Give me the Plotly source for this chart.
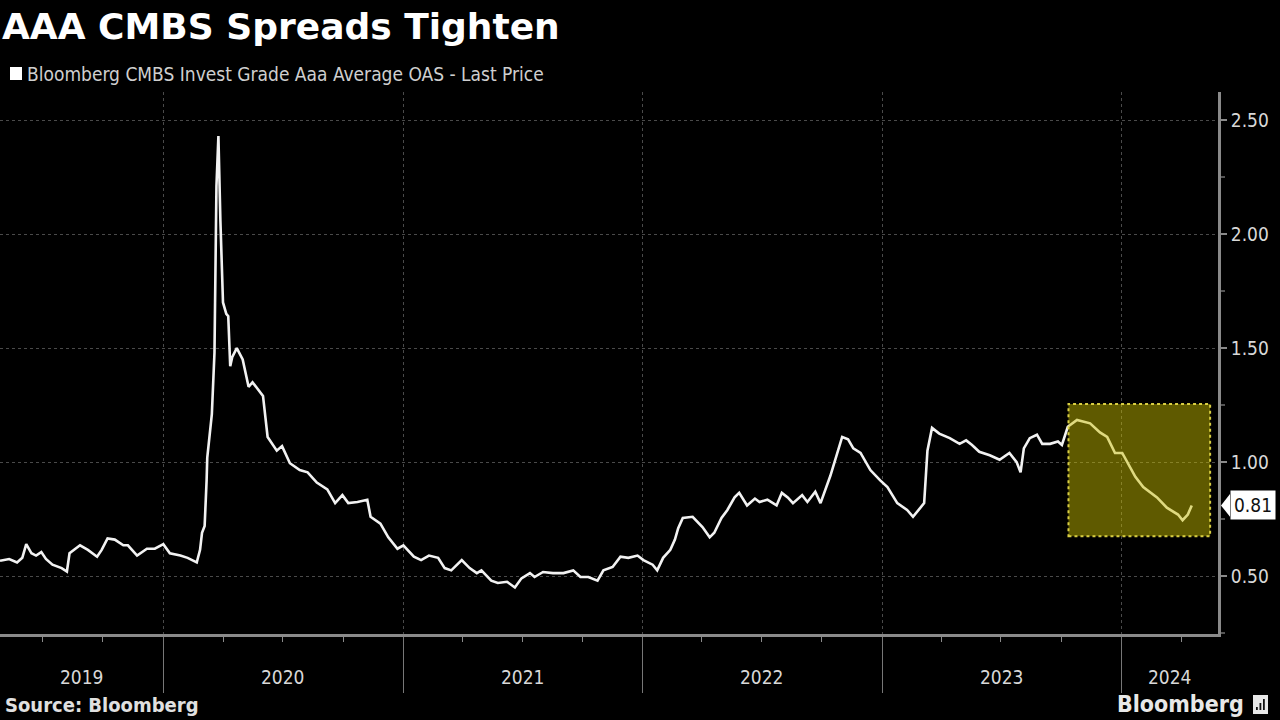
import plotly.graph_objects as go
import pandas as pd

# ---------------- data ----------------
dates = [
    "2019-04-27", "2019-05-11", "2019-05-23", "2019-05-31", "2019-06-06", "2019-06-14", "2019-06-21",
    "2019-06-29", "2019-07-06", "2019-07-16", "2019-07-30", "2019-08-07", "2019-08-11", "2019-08-27",
    "2019-09-08", "2019-09-22", "2019-09-29", "2019-10-08", "2019-10-19", "2019-11-01", "2019-11-08",
    "2019-11-22", "2019-12-07", "2019-12-19", "2020-01-01", "2020-01-11", "2020-01-27", "2020-02-07",
    "2020-02-21", "2020-02-26", "2020-02-29", "2020-03-04", "2020-03-07", "2020-03-08", "2020-03-15",
    "2020-03-19", "2020-03-22", "2020-03-25", "2020-03-28", "2020-04-01", "2020-04-06", "2020-04-09",
    "2020-04-12", "2020-04-15", "2020-04-22", "2020-05-01", "2020-05-10", "2020-05-16", "2020-06-01",
    "2020-06-08", "2020-06-22", "2020-06-30", "2020-07-12", "2020-07-27", "2020-08-08", "2020-08-22",
    "2020-09-07", "2020-09-19", "2020-09-30", "2020-10-09", "2020-10-23", "2020-11-07", "2020-11-12",
    "2020-11-27", "2020-12-09", "2020-12-23", "2021-01-01", "2021-01-17", "2021-01-28", "2021-02-09",
    "2021-02-23", "2021-03-05", "2021-03-15", "2021-03-31", "2021-04-12", "2021-04-23", "2021-04-30",
    "2021-05-15", "2021-05-25", "2021-06-08", "2021-06-20", "2021-06-30", "2021-07-13", "2021-07-20",
    "2021-08-02", "2021-08-17", "2021-09-02", "2021-09-17", "2021-09-28", "2021-10-10", "2021-10-24",
    "2021-11-02", "2021-11-16", "2021-11-28", "2021-12-10", "2021-12-24", "2022-01-02", "2022-01-16",
    "2022-01-23", "2022-02-01", "2022-02-12", "2022-02-19", "2022-02-24", "2022-03-03", "2022-03-18",
    "2022-04-02", "2022-04-13", "2022-04-20", "2022-05-01", "2022-05-10", "2022-05-21", "2022-05-28",
    "2022-06-09", "2022-06-21", "2022-06-28", "2022-07-10", "2022-07-24", "2022-08-01", "2022-08-10",
    "2022-08-18", "2022-09-01", "2022-09-09", "2022-09-21", "2022-09-29", "2022-10-14", "2022-10-24",
    "2022-11-01", "2022-11-10", "2022-11-18", "2022-11-29", "2022-12-14", "2022-12-29", "2023-01-09",
    "2023-01-24", "2023-02-08", "2023-02-17", "2023-02-28", "2023-03-06", "2023-03-11", "2023-03-18",
    "2023-03-29", "2023-04-14", "2023-04-29", "2023-05-09", "2023-05-18", "2023-05-29", "2023-06-14",
    "2023-06-29", "2023-07-14", "2023-07-25", "2023-07-31", "2023-08-05", "2023-08-14", "2023-08-25",
    "2023-09-02", "2023-09-14", "2023-09-26", "2023-10-02", "2023-10-11", "2023-10-25", "2023-11-14",
    "2023-11-29", "2023-12-10", "2023-12-22", "2024-01-02", "2024-01-14", "2024-01-22", "2024-02-03",
    "2024-02-24", "2024-03-10", "2024-03-27", "2024-04-03", "2024-04-11", "2024-04-17",
]
oas = [
    0.567, 0.575, 0.56, 0.58, 0.64, 0.60, 0.59,
    0.605, 0.575, 0.55, 0.535, 0.52, 0.60, 0.635,
    0.615, 0.585, 0.615, 0.665, 0.66, 0.635, 0.635,
    0.59, 0.62, 0.62, 0.64, 0.60, 0.59, 0.58,
    0.56, 0.615, 0.69, 0.72, 0.92, 1.02, 1.21,
    1.48, 2.21, 2.43, 2.06, 1.70, 1.65, 1.64,
    1.42, 1.46, 1.50, 1.45, 1.33, 1.35, 1.29,
    1.11, 1.05, 1.07, 0.995, 0.965, 0.955, 0.91,
    0.88, 0.82, 0.855, 0.82, 0.825, 0.835, 0.76,
    0.73, 0.67, 0.62, 0.635, 0.585, 0.57, 0.59,
    0.58, 0.535, 0.525, 0.57, 0.535, 0.513, 0.525,
    0.48, 0.47, 0.475, 0.45, 0.49, 0.513, 0.496,
    0.518, 0.513, 0.513, 0.525, 0.496, 0.496, 0.48,
    0.525, 0.54, 0.585, 0.58, 0.59, 0.57, 0.55,
    0.525, 0.58, 0.615, 0.66, 0.71, 0.755, 0.76,
    0.715, 0.67, 0.69, 0.755, 0.79, 0.845, 0.865,
    0.81, 0.84, 0.825, 0.835, 0.81, 0.865, 0.845,
    0.82, 0.855, 0.825, 0.87, 0.82, 0.94, 1.04,
    1.11, 1.10, 1.06, 1.04, 0.965, 0.92, 0.89,
    0.82, 0.79, 0.76, 0.80, 0.82, 1.05, 1.15,
    1.125, 1.105, 1.08, 1.095, 1.075, 1.045, 1.03,
    1.01, 1.04, 1.00, 0.955, 1.06, 1.105, 1.12,
    1.08, 1.08, 1.09, 1.075, 1.155, 1.185, 1.17,
    1.13, 1.11, 1.04, 1.04, 0.98, 0.935, 0.89,
    0.845, 0.80, 0.77, 0.745, 0.77, 0.81,
]
year_labels = ["2019", "2020", "2021", "2022", "2023", "2024"]
y_ticks = [0.5, 1.0, 1.5, 2.0, 2.5]

title_text = "AAA CMBS Spreads Tighten"
legend_text = "Bloomberg CMBS Invest Grade Aaa Average OAS - Last Price"
source_text = "Source: Bloomberg"

x_range = ["2019-04-27", "2024-05-27"]
y_range = [0.246, 2.623]
highlight_x = ["2023-10-12", "2024-05-15"]
highlight_y = [0.675, 1.255]

# ---------------- layout helpers ----------------
W, H = 1280, 720
PL, PR, PT, PB = 0, 1218, 92, 634


def px(p):
    return (p - PL) / (PR - PL)


def py(p):
    return (PB - p) / (PB - PT)


FONT = "DejaVu Sans Condensed, Liberation Sans Narrow, DejaVu Sans, sans-serif"
GRID = "#4a4a4a"
AXIS = "#8a8a8a"
LABEL = "#d8d8d8"

fig = go.Figure()
fig.add_trace(go.Scatter(
    x=pd.to_datetime(dates), y=oas, mode="lines",
    line=dict(color="#f2f2f2", width=2.6), hoverinfo="x+y", showlegend=False,
))

# year labels centred in visible portion of each year
xr0, xr1 = pd.Timestamp(x_range[0]), pd.Timestamp(x_range[1])
annotations = []
for lab in year_labels:
    s = max(pd.Timestamp(f"{lab}-01-01"), xr0)
    e = min(pd.Timestamp(f"{int(lab) + 1}-01-01"), xr1)
    mid = s + (e - s) / 2
    annotations.append(dict(x=mid, y=py(677), xref="x", yref="paper", text=lab, showarrow=False,
                            font=dict(family=FONT, size=19, color=LABEL), xanchor="center", yanchor="middle"))

last = oas[-1]
annotations += [
    dict(x=px(0), y=py(27), xref="paper", yref="paper", text=f"<b>{title_text}</b>", showarrow=False,
         xanchor="left", yanchor="middle", font=dict(family="DejaVu Sans, sans-serif", size=36, color="#ffffff")),
    dict(x=px(25), y=py(74), xref="paper", yref="paper", text=legend_text, showarrow=False,
         xanchor="left", yanchor="middle", font=dict(family=FONT, size=19, color="#cfcfcf")),
    dict(x=px(3), y=py(705), xref="paper", yref="paper", text=f"<b>{source_text}</b>", showarrow=False,
         xanchor="left", yanchor="middle", font=dict(family=FONT, size=20, color="#e0e0e0")),
    dict(x=px(1246), y=py(704), xref="paper", yref="paper", text="<b>Bloomberg</b>", showarrow=False,
         xanchor="right", yanchor="middle", font=dict(family=FONT, size=23, color="#e8e8e8")),
    dict(x=px(1253), y=last, xref="paper", yref="y", text=f"{last:.2f}", showarrow=False,
         xanchor="center", yanchor="middle", bgcolor="#ffffff", borderpad=3,
         font=dict(family=FONT, size=19, color="#111111")),
]

shapes = [
    # highlight box (overlays the line, tinting it yellow)
    dict(type="rect", xref="x", yref="y",
         x0=highlight_x[0], x1=highlight_x[1], y0=highlight_y[0], y1=highlight_y[1],
         fillcolor="rgba(202,191,0,0.47)",
         line=dict(color="rgba(225,215,70,0.95)", width=2, dash="dot"), layer="above"),
    # legend square
    dict(type="rect", xref="paper", yref="paper", x0=px(10), x1=px(22), y0=py(80), y1=py(67),
         fillcolor="#ffffff", line=dict(width=0)),
    # last-price arrow tip
    dict(type="path", xref="paper", yref="y",
         path=f"M {px(1221)} {last} L {px(1230)} {last + 0.05} L {px(1230)} {last - 0.05} Z",
         fillcolor="#ffffff", line=dict(width=0)),
    # Bloomberg logo icon
    dict(type="rect", xref="paper", yref="paper", x0=px(1253), x1=px(1268), y0=py(714), y1=py(695),
         fillcolor="#e8e8e8", line=dict(width=0)),
]
for bx, bt in [(1256, 707), (1259.5, 703), (1263, 699)]:
    shapes.append(dict(type="rect", xref="paper", yref="paper", x0=px(bx), x1=px(bx + 1.8),
                       y0=py(710), y1=py(bt), fillcolor="#111111", line=dict(width=0)))

fig.update_layout(
    width=W, height=H,
    margin=dict(l=PL, r=W - PR, t=PT, b=H - PB, pad=0),
    paper_bgcolor="#000000", plot_bgcolor="#000000",
    showlegend=False,
    annotations=annotations,
    shapes=shapes,
    xaxis=dict(
        type="date", range=x_range, showticklabels=False,
        tick0="2020-01-01", dtick="M12", ticks="outside", ticklen=56, tickwidth=1, tickcolor="#777777",
        showgrid=True, gridcolor=GRID, griddash="dot", gridwidth=1,
        showline=True, linecolor=AXIS, linewidth=3,
        minor=dict(tick0="2019-01-01", dtick="M3", ticks="outside", ticklen=5, tickcolor=AXIS, showgrid=False),
        zeroline=False, fixedrange=True,
    ),
    yaxis=dict(
        side="right", range=y_range, tickvals=y_ticks, ticktext=[f"{v:.2f}" for v in y_ticks],
        ticks="outside", ticklen=6, tickwidth=2, tickcolor=AXIS,
        tickfont=dict(family=FONT, size=19, color=LABEL),
        showgrid=True, gridcolor=GRID, griddash="dot", gridwidth=1,
        showline=True, linecolor=AXIS, linewidth=3,
        minor=dict(dtick=0.25, tick0=0.25, ticks="outside", ticklen=4, tickcolor="#555555", showgrid=False),
        zeroline=False, fixedrange=True,
    ),
)

fig.write_html("out.html", config={"displayModeBar": False},
               post_script="document.body.style.margin='0';document.body.style.background='#000';")
